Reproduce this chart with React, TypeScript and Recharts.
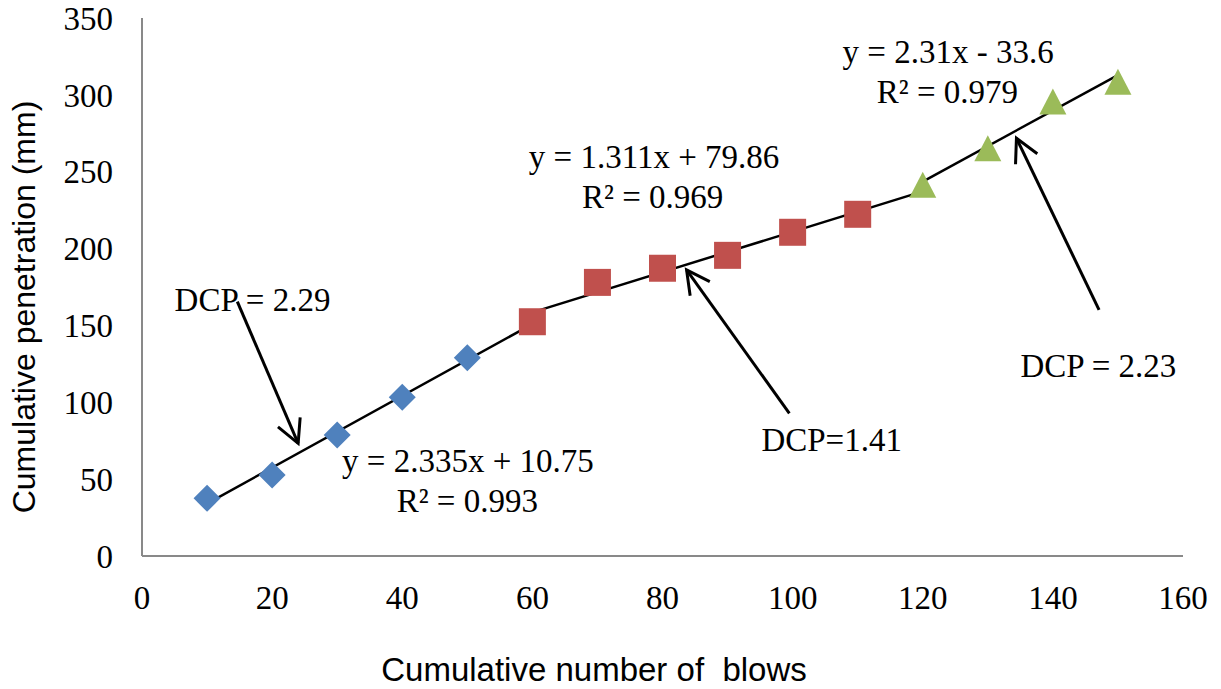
import React from 'react';
import { ComposedChart, Scatter, Line, XAxis, YAxis, ReferenceLine, ReferenceDot, Customized } from 'recharts';

// blows vs penetration, three layers
const blowsA = [10, 20, 30, 40, 50];
const penA = [37.5, 52.7, 78.7, 103.2, 129];
const blowsB = [60, 70, 80, 90, 100, 110];
const penB = [152.4, 178, 187.2, 195.6, 210.6, 222.3];
const blowsC = [120, 130, 140, 150];
const penC = [241.6, 265.3, 295.6, 308.6];

// linear trendlines (end points as drawn)
const trendBlowsA = [10, 60];
const trendPenA = [34.1, 150.9];
const trendBlowsB = [60, 120];
const trendPenB = [158.5, 237.2];
const trendBlowsC = [120, 150];
const trendPenC = [243.6, 312.9];

const xTicks = [0, 20, 40, 60, 80, 100, 120, 140, 160];
const yTicks = [0, 50, 100, 150, 200, 250, 300, 350];

// annotation arrows: [fromX, fromY, toX, toY]
const arrows = [
  [14.65, 165.5, 24.0, 73.3],
  [99.5, 92.8, 83.7, 186.1],
  [147.1, 160.1, 134.4, 271.8],
];

const notes = [
  { x: 16.98, y: 159.6, text: 'DCP = 2.29' },
  { x: 50.1, y: 54.8, text: 'y = 2.335x + 10.75' },
  { x: 50.0, y: 28.8, text: 'R² = 0.993' },
  { x: 78.7, y: 252.2, text: 'y = 1.311x + 79.86' },
  { x: 78.5, y: 226.2, text: 'R² = 0.969' },
  { x: 123.9, y: 320.6, text: 'y = 2.31x - 33.6' },
  { x: 123.8, y: 294.5, text: 'R² = 0.979' },
  { x: 106.0, y: 68.5, text: 'DCP=1.41' },
  { x: 147.0, y: 116.3, text: 'DCP = 2.23' },
];

const toPoints = (xs: number[], ys: number[]) => xs.map((x, i) => ({ x, y: ys[i] }));

const serif = '"Liberation Serif", "Times New Roman", serif';
const sans = '"Liberation Sans", Arial, sans-serif';

const Diamond = (props: any) => {
  const { cx, cy } = props;
  const r = 13.5;
  return <polygon points={`${cx},${cy - r} ${cx + r},${cy} ${cx},${cy + r} ${cx - r},${cy}`} fill="#4F81BD" />;
};

const Square = (props: any) => {
  const { cx, cy } = props;
  return <rect x={cx - 13.5} y={cy - 13.5} width={27} height={27} fill="#C0504D" />;
};

const Triangle = (props: any) => {
  const { cx, cy } = props;
  return <polygon points={`${cx},${cy - 13} ${cx + 13.5},${cy + 13} ${cx - 13.5},${cy + 13}`} fill="#9BBB59" />;
};

const Arrow = (props: any) => {
  const { x1, y1, x2, y2 } = props;
  const ang = Math.atan2(y2 - y1, x2 - x1);
  const len = 26;
  const spread = Math.PI / 6.5;
  const ax = x2 - len * Math.cos(ang - spread);
  const ay = y2 - len * Math.sin(ang - spread);
  const bx = x2 - len * Math.cos(ang + spread);
  const by = y2 - len * Math.sin(ang + spread);
  return (
    <g stroke="#000" strokeWidth={3} fill="none">
      <line x1={x1} y1={y1} x2={x2} y2={y2} />
      <polyline points={`${ax},${ay} ${x2},${y2} ${bx},${by}`} />
    </g>
  );
};

const AxisTitles = () => (
  <g fontFamily={sans} fill="#000" style={{ whiteSpace: 'pre' }}>
    <text x={594} y={681} textAnchor="middle" fontSize={33} xmlSpace="preserve">Cumulative number of  blows</text>
    <text x={35} y={307} textAnchor="middle" fontSize={32} transform="rotate(-90 35 307)">Cumulative penetration (mm)</text>
  </g>
);

export default function App() {
  return (
    <div style={{ position: 'absolute', left: 0, top: 0, background: '#fff' }}>
      <ComposedChart width={1221} height={689} margin={{ top: 18, right: 38, bottom: 0, left: 0 }}>
        <XAxis
          type="number"
          dataKey="x"
          domain={[0, 160]}
          ticks={xTicks}
          height={133}
          axisLine={{ stroke: '#898989', strokeWidth: 2 }}
          tickLine={false}
          tickSize={0}
          tickMargin={30}
          tick={{ fill: '#000', fontSize: 33, fontFamily: serif }}
          allowDataOverflow
        />
        <YAxis
          type="number"
          dataKey="y"
          domain={[0, 350]}
          ticks={yTicks}
          width={142}
          axisLine={{ stroke: '#898989', strokeWidth: 2 }}
          tickLine={false}
          tickSize={0}
          tickMargin={29}
          tick={{ fill: '#000', fontSize: 33, fontFamily: serif }}
          allowDataOverflow
        />
        <Scatter data={toPoints(blowsA, penA)} dataKey="y" shape={Diamond} isAnimationActive={false} />
        <Scatter data={toPoints(blowsB, penB)} dataKey="y" shape={Square} isAnimationActive={false} />
        <Scatter data={toPoints(blowsC, penC)} dataKey="y" shape={Triangle} isAnimationActive={false} />
        <Line data={toPoints(trendBlowsA, trendPenA)} dataKey="y" stroke="#000" strokeWidth={2.5} dot={false} activeDot={false} isAnimationActive={false} />
        <Line data={toPoints(trendBlowsB, trendPenB)} dataKey="y" stroke="#000" strokeWidth={2.5} dot={false} activeDot={false} isAnimationActive={false} />
        <Line data={toPoints(trendBlowsC, trendPenC)} dataKey="y" stroke="#000" strokeWidth={2.5} dot={false} activeDot={false} isAnimationActive={false} />
        {arrows.map((a, i) => (
          <ReferenceLine
            key={`arrow-${i}`}
            segment={[{ x: a[0], y: a[1] }, { x: a[2], y: a[3] }]}
            shape={Arrow}
            ifOverflow="visible"
          />
        ))}
        {notes.map((n, i) => (
          <ReferenceDot
            key={`note-${i}`}
            x={n.x}
            y={n.y}
            ifOverflow="visible"
            shape={(p: any) => (
              <text x={p.cx} y={p.cy} textAnchor="middle" fontFamily={serif} fontSize={33} fill="#000">
                {n.text}
              </text>
            )}
          />
        ))}
        <Customized component={AxisTitles} />
      </ComposedChart>
    </div>
  );
}
